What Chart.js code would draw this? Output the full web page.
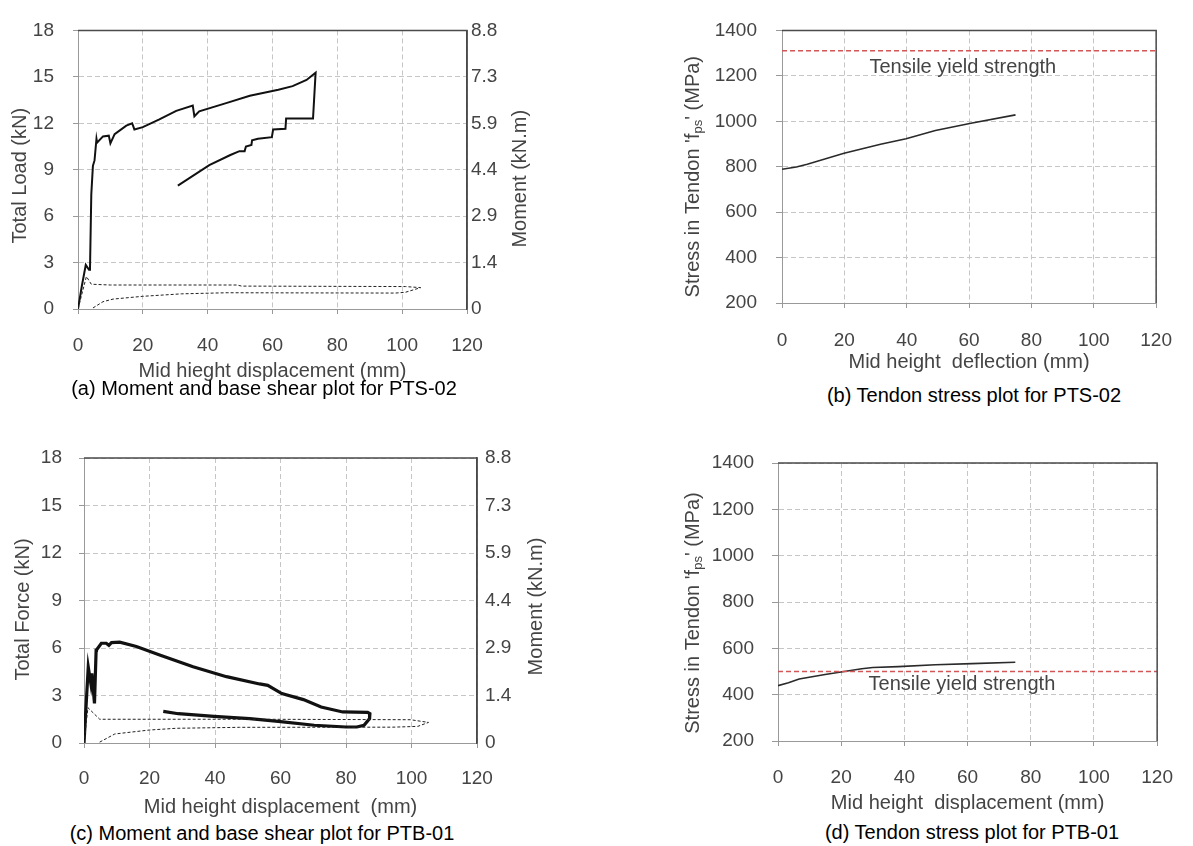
<!DOCTYPE html>
<html>
<head>
<meta charset="utf-8">
<script src="https://cdn.jsdelivr.net/npm/chart.js@4.4.1/dist/chart.umd.min.js"></script>
<style>
  body { margin: 0; background: #fff; width: 1193px; height: 846px; position: relative; overflow: hidden;
         font-family: "Liberation Sans", Arial, sans-serif; }
  .box { position: absolute; }
  .caption { position: absolute; font-size: 20px; color: #000; white-space: nowrap; transform: translate(-50%, -50%); }
</style>
</head>
<body>
<div class="box" style="left:0;top:0;width:535px;height:385px"><canvas id="chartA"></canvas></div>
<div class="box" style="left:600px;top:0;width:593px;height:380px"><canvas id="chartB"></canvas></div>
<div class="box" style="left:0;top:420px;width:555px;height:400px"><canvas id="chartC"></canvas></div>
<div class="box" style="left:600px;top:420px;width:593px;height:400px"><canvas id="chartD"></canvas></div>

<div class="caption" style="left:264px;top:388px">(a) Moment and base shear plot for PTS-02</div>
<div class="caption" style="left:974px;top:395px">(b) Tendon stress plot for PTS-02</div>
<div class="caption" style="left:262px;top:833px">(c) Moment and base shear plot for PTB-01</div>
<div class="caption" style="left:972px;top:832px">(d) Tendon stress plot for PTB-01</div>

<script>
// PTS-02 load vs mid height displacement (kN, mm)
const loadA_x = [0, 1.2, 2.4, 3.4, 3.7, 4.1, 4.6, 5.1, 5.7, 5.9, 7.7, 9.5, 10.0, 11.3, 14.9, 16.7, 17.4, 20.0, 25.1, 30.3,
                 35.4, 35.9, 37.4, 45.7, 53.0, 61.8, 66.2, 70.5, 73.3, 72.5, 64.2, 64.0, 60.2, 59.8, 55.5, 53.7, 53.5,
                 51.8, 51.4, 49.8, 47.0, 40.5, 30.8];
const loadA_y = [0, 1.5, 2.85, 2.54, 2.6, 7.4, 9.25, 9.6, 11.0, 10.75, 11.15, 11.2, 10.7, 11.3, 11.85, 12.0, 11.6, 11.75, 12.25, 12.8,
                 13.15, 12.45, 12.77, 13.3, 13.78, 14.17, 14.4, 14.8, 15.27, 12.3, 12.3, 11.65, 11.6, 11.1, 11.0, 10.9, 10.6,
                 10.5, 10.2, 10.2, 9.95, 9.3, 7.97];
const loopA_x = [0, 2.6, 4.1, 10, 49, 50.5, 101, 105.7, 101, 98, 46, 32, 20, 10.8, 7.7, 4.1];
const loopA_y = [0, 2.1, 1.6, 1.55, 1.55, 1.48, 1.45, 1.38, 1.08, 1.03, 1.05, 0.98, 0.82, 0.64, 0.47, 0];

// PTB-01 force vs mid height displacement
const loadC_x = [0, 0.5, 1.3, 2.1, 2.4, 3.2, 3.7, 3.8, 5.3, 6.8, 7.6, 8.4, 10.9, 16, 23.1, 33.3, 43.5, 53.6, 56.1, 60.4,
                 67, 72.4, 79, 86.6, 87.3, 87.2, 85.5, 83.3, 80, 70.3, 59.3, 50.6, 39.7, 28.8, 24.2];
const loadC_y = [0, 1.85, 4.8, 3.75, 4.4, 2.5, 5.85, 5.87, 6.3, 6.3, 6.17, 6.34, 6.37, 6.09, 5.56, 4.82, 4.19, 3.73, 3.64, 3.12,
                 2.74, 2.27, 1.96, 1.94, 1.85, 1.54, 1.12, 1.01, 1.01, 1.12, 1.37, 1.54, 1.68, 1.85, 2.0];
const loopC_x = [0, 1.2, 4.8, 53.6, 99.7, 105.2, 101.9, 94.3, 47.5, 28.2, 20, 9.4, 4.3];
const loopC_y = [0, 2.23, 1.5, 1.5, 1.47, 1.3, 1.05, 1.0, 0.99, 0.93, 0.82, 0.57, 0];

// tendon stress (MPa) vs deflection (mm)
const stressB_x = [0, 4.6, 8.1, 19.9, 31.6, 39.8, 49.2, 61, 74.9];
const stressB_y = [789, 799, 811, 859, 899, 923, 959, 992, 1028];
const stressD_x = [0, 3.3, 6.7, 14.9, 26.5, 30, 38.1, 49.8, 61.4, 75.1];
const stressD_y = [439, 451, 468, 487, 512, 517, 521, 529, 534, 540];
const yieldB = 1310;
const yieldD = 500;

const momentTicks = ["0", "1.4", "2.9", "4.4", "5.9", "7.3", "8.8"];

const FONT = "'Liberation Sans', Arial, sans-serif";
const INK = "#444";
const DARK = "#4a4a4a";

function pts(xs, ys) {
    return xs.map((x, i) => ({ x: x, y: ys[i] }));
}

function xAxis(title, tickPad, titlePad, boxHeight) {
    return {
        type: "linear", position: "bottom", min: 0, max: 120,
        ticks: { stepSize: 20, padding: tickPad, color: INK, font: { family: FONT, size: 19 }, maxRotation: 0 },
        grid: { color: "#c6c6c6", tickColor: "#999", tickLength: 5 },
        border: { color: "#999", dash: [5, 3] },
        title: { display: true, text: title, color: INK, font: { family: FONT, size: 20 }, padding: { top: 0, bottom: titlePad } },
        afterFit: s => { s.height = boxHeight; }
    };
}

function yAxis(min, max, step, tickLen, tickPad, boxWidth) {
    return {
        type: "linear", position: "left", min: min, max: max,
        ticks: { stepSize: step, padding: tickPad, color: INK, font: { family: FONT, size: 19 }, callback: v => String(v) },
        grid: { color: "#c6c6c6", tickColor: "#999", tickLength: tickLen },
        border: { color: "#999", dash: [5, 3] },
        afterFit: s => { s.width = boxWidth; }
    };
}

function momentAxis(tickPad, boxWidth) {
    return {
        type: "linear", position: "right", min: 0, max: 18,
        ticks: { stepSize: 3, padding: tickPad, color: INK, font: { family: FONT, size: 19 }, callback: (v, i) => momentTicks[i] },
        grid: { drawOnChartArea: false, drawTicks: false },
        border: { color: DARK, width: 1.5 },
        afterFit: s => { s.width = boxWidth; }
    };
}

// dark top and right edge of the plot box
const framePlugin = {
    id: "frame",
    afterDatasetsDraw(chart) {
        const { ctx, chartArea: a } = chart;
        ctx.save();
        ctx.strokeStyle = DARK;
        ctx.lineWidth = 1.5;
        ctx.beginPath();
        ctx.moveTo(a.left, a.top);
        ctx.lineTo(a.right, a.top);
        ctx.lineTo(a.right, a.bottom);
        ctx.stroke();
        ctx.restore();
    }
};

// "Tensile yield strength" label, placed through the scales
const yieldLabel = {
    id: "yieldLabel",
    afterDraw(chart, args, opts) {
        if (!opts.text) return;
        const ctx = chart.ctx;
        ctx.save();
        ctx.font = "20px " + FONT;
        ctx.fillStyle = INK;
        ctx.textAlign = "center";
        ctx.textBaseline = "middle";
        ctx.fillText(opts.text, chart.scales.x.getPixelForValue(opts.x), chart.scales.y.getPixelForValue(opts.y));
        ctx.restore();
    }
};

// rotated axis titles (bottom-to-top on both sides), parts allow a subscript
const sideTitles = {
    id: "sideTitles",
    afterDraw(chart, args, opts) {
        const { ctx, chartArea: a } = chart;
        (opts.items || []).forEach(item => {
            ctx.save();
            let total = 0;
            item.parts.forEach(p => { ctx.font = p[1] + "px " + FONT; total += ctx.measureText(p[0]).width; });
            const cx = item.side === "left" ? a.left - item.gap : a.right + item.gap;
            ctx.translate(cx, (a.top + a.bottom) / 2 + item.shift);
            ctx.rotate(-Math.PI / 2);
            ctx.fillStyle = INK;
            ctx.textBaseline = "middle";
            let x = -total / 2;
            item.parts.forEach(p => {
                ctx.font = p[1] + "px " + FONT;
                ctx.fillText(p[0], x, p[2]);
                x += ctx.measureText(p[0]).width;
            });
            ctx.restore();
        });
    }
};

const baseOptions = () => ({
    responsive: true,
    maintainAspectRatio: false,
    animation: false,
    events: [],
    elements: { point: { radius: 0 }, line: { tension: 0 } },
    plugins: { legend: { display: false }, tooltip: { enabled: false } }
});

function createLoadChart(id, mainPts, loopPts, mainWidth, yTitle, cfg) {
    const options = baseOptions();
    options.layout = { padding: { top: cfg.top, left: 0, right: 0, bottom: 0 } };
    options.scales = {
        x: xAxis(cfg.xTitle, cfg.xTickPad, cfg.xTitlePad, cfg.xHeight),
        y: yAxis(0, 18, 3, 5, cfg.yTickPad, cfg.yWidth),
        y2: momentAxis(cfg.y2TickPad, cfg.y2Width)
    };
    options.plugins.sideTitles = {
        items: [
            { side: "left", gap: cfg.yTitleGap, shift: cfg.yTitleShift, parts: [[yTitle, 20, 0]] },
            { side: "right", gap: cfg.y2TitleGap, shift: cfg.y2TitleShift, parts: [["Moment (kN.m)", 20, 0]] }
        ]
    };
    new Chart(document.getElementById(id), {
        type: "scatter",
        data: {
            datasets: [
                { data: loopPts, showLine: true, borderColor: "#222", borderWidth: 1, borderDash: [3, 2] },
                { data: mainPts, showLine: true, borderColor: "#111", borderWidth: mainWidth }
            ]
        },
        options: options,
        plugins: [framePlugin, sideTitles]
    });
}

function createStressChart(id, linePts, yieldValue, cfg) {
    const options = baseOptions();
    options.layout = { padding: { top: cfg.top, left: 0, right: cfg.right, bottom: 0 } };
    options.scales = {
        x: xAxis(cfg.xTitle, cfg.xTickPad, cfg.xTitlePad, cfg.xHeight),
        y: yAxis(200, 1400, 200, 6, cfg.yTickPad, cfg.yWidth)
    };
    options.plugins.yieldLabel = { text: "Tensile yield strength", x: cfg.labelX, y: cfg.labelY };
    options.plugins.sideTitles = {
        items: [{ side: "left", gap: cfg.titleGap, shift: cfg.titleShift,
                  parts: [["Stress in Tendon 'f", 20, 0], ["ps", 13, 5], ["' (MPa)", 20, 0]] }]
    };
    new Chart(document.getElementById(id), {
        type: "scatter",
        data: {
            datasets: [
                { data: [{ x: 0, y: yieldValue }, { x: 120, y: yieldValue }], showLine: true,
                  borderColor: "#d45555", borderWidth: 1.5, borderDash: [5, 3] },
                { data: linePts, showLine: true, borderColor: "#2a2a2a", borderWidth: 1.6 }
            ]
        },
        options: options,
        plugins: [framePlugin, yieldLabel, sideTitles]
    });
}

createLoadChart("chartA", pts(loadA_x, loadA_y), pts(loopA_x, loopA_y), 2, "Total Load (kN)", {
    top: 19, xTitle: "Mid hieght displacement (mm)", xTickPad: 20, xTitlePad: 2, xHeight: 76,
    yTickPad: 19, yWidth: 78, y2TickPad: 4, y2Width: 68,
    yTitleGap: 58, yTitleShift: 6, y2TitleGap: 53, y2TitleShift: 9
});

createLoadChart("chartC", pts(loadC_x, loadC_y), pts(loopC_x, loopC_y), 3.2, "Total Force (kN)", {
    top: 38, xTitle: "Mid height displacement  (mm)", xTickPad: 19, xTitlePad: 1, xHeight: 77,
    yTickPad: 17, yWidth: 84, y2TickPad: 8, y2Width: 78,
    yTitleGap: 61, yTitleShift: 9, y2TitleGap: 59, y2TitleShift: 6
});

createStressChart("chartB", pts(stressB_x, stressB_y), yieldB, {
    top: 23, right: 26, xTitle: "Mid height  deflection (mm)", xTickPad: 21, xTitlePad: 6, xHeight: 77,
    yTickPad: 19, yWidth: 182, labelX: 58, labelY: 1237, titleGap: 89, titleShift: 10
});

createStressChart("chartD", pts(stressD_x, stressD_y), yieldD, {
    top: 43, right: 25, xTitle: "Mid height  displacement (mm)", xTickPad: 20, xTitlePad: 5, xHeight: 79,
    yTickPad: 18, yWidth: 178, labelX: 58.2, labelY: 442, titleGap: 85, titleShift: 11
});
</script>
</body>
</html>
